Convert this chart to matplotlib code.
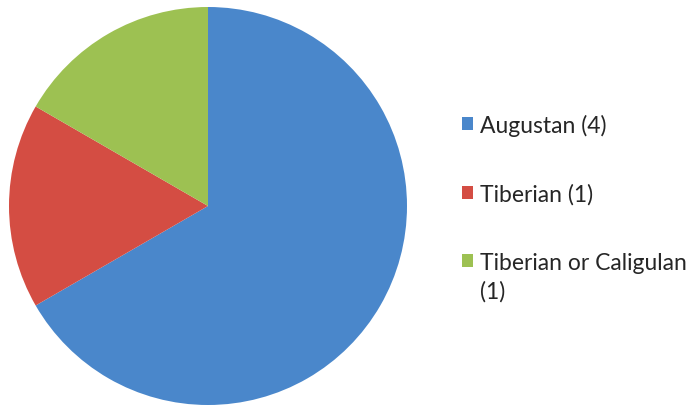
import matplotlib.pyplot as plt

# Data
labels = ["Augustan (4)", "Tiberian (1)", "Tiberian or Caligulan"]
label_tail = "(1)"
counts = [4, 1, 1]
colors = ["#4a87cb", "#d44d43", "#9dc152"]

W, H = 691, 406
fig = plt.figure(figsize=(W / 100, H / 100), dpi=100)

# Pie axes placed in pixel terms: centre (208, 207), radius ~199
cx, cy, r = 208, 207, 199
ax = fig.add_axes([(cx - r) / W, (H - cy - r) / H, 2 * r / W, 2 * r / H])
wedges, _ = ax.pie(counts, colors=colors, startangle=90, counterclock=False,
                   radius=1, wedgeprops=dict(linewidth=0))
ax.set_xlim(-1, 1)
ax.set_ylim(-1, 1)
ax.set_aspect("equal")
ax.axis("off")

text_color = "#262626"
font = {"family": "Lato", "size": 16.5}
leg = fig.legend(wedges, labels, loc="upper left",
                 bbox_to_anchor=(462 / W, 1 - 115 / H),
                 frameon=False, prop=font, labelcolor=text_color,
                 handlelength=0.5, handleheight=0.5, handletextpad=0.3,
                 labelspacing=2.05, borderpad=0, borderaxespad=0)

# second line of the last legend label
fig.text(480 / W, 1 - 292 / H, label_tail, ha="left", va="center",
         fontfamily="Lato", fontsize=16.5, color=text_color)

fig.savefig("out.png", dpi=100)
